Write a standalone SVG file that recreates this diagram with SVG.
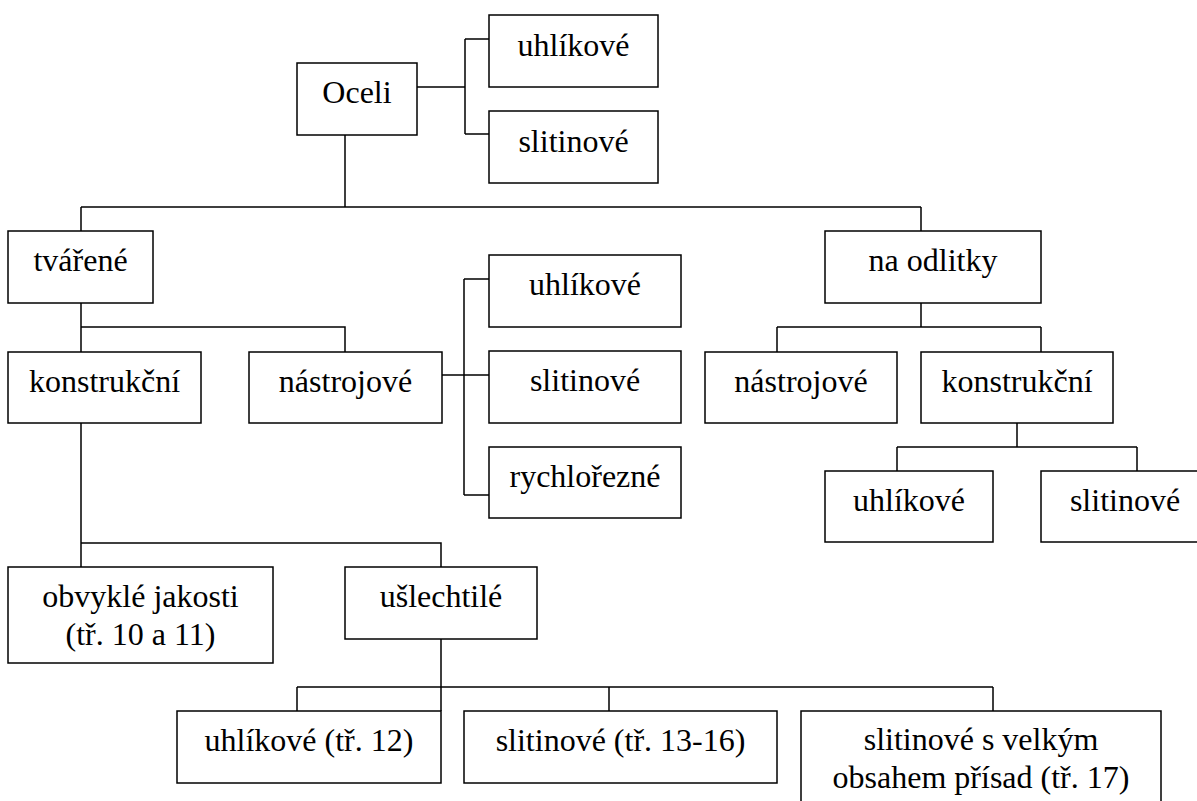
<svg xmlns="http://www.w3.org/2000/svg" width="1197" height="801" viewBox="0 0 1197 801">
<style>
.box{fill:#fff;stroke:#000;stroke-width:1.5}
.ln{fill:none;stroke:#000;stroke-width:1.5}
text{font-family:'Liberation Serif','Times New Roman',serif;font-size:32px;fill:#000;text-anchor:middle}
</style>
<rect width="1197" height="801" fill="#fff"/>
<g id="connectors" class="ln">
<path d="M417,87 H465 M465,39 V134 M465,39 H489 M465,134 H489"/>
<path d="M345,135 V207 M81,207 H921 M81,207 V231 M921,207 V231"/>
<path d="M81,303 V352 M81,327 H345 V352"/>
<path d="M442,375 H489 M464,279 V495 M464,279 H489 M464,495 H489"/>
<path d="M921,303 V327 M777,327 H1041 M777,327 V352 M1041,327 V352"/>
<path d="M1017,423 V447 M897,447 H1137 M897,447 V471 M1137,447 V471"/>
<path d="M81,423 V567 M81,543 H441 V567"/>
<path d="M441,639 V711 M297,687 H993 M297,687 V711 M609,687 V711 M993,687 V711"/>
</g>
<g id="oceli"><rect class="box" x="297" y="63" width="120" height="72"/><text x="357" y="103">Oceli</text></g>
<g id="uhlikove1"><rect class="box" x="489" y="15" width="169" height="72"/><text x="573.5" y="56">uhlíkové</text></g>
<g id="slitinove1"><rect class="box" x="489" y="111" width="169" height="72"/><text x="573.5" y="152">slitinové</text></g>
<g id="tvarene"><rect class="box" x="8" y="231" width="145" height="72"/><text x="80.5" y="271">tvářené</text></g>
<g id="na-odlitky"><rect class="box" x="825" y="231" width="216" height="72"/><text x="933" y="271">na odlitky</text></g>
<g id="konstrukcni1"><rect class="box" x="8" y="352" width="193" height="71"/><text x="104.5" y="392">konstrukční</text></g>
<g id="nastrojove1"><rect class="box" x="249" y="352" width="193" height="71"/><text x="345.5" y="392">nástrojové</text></g>
<g id="uhlikove2"><rect class="box" x="489" y="255" width="192" height="72"/><text x="585" y="295">uhlíkové</text></g>
<g id="slitinove2"><rect class="box" x="489" y="351" width="192" height="72"/><text x="585" y="391">slitinové</text></g>
<g id="rychlorezne"><rect class="box" x="489" y="447" width="192" height="71"/><text x="585" y="487">rychlořezné</text></g>
<g id="nastrojove2"><rect class="box" x="705" y="352" width="192" height="71"/><text x="801" y="392">nástrojové</text></g>
<g id="konstrukcni2"><rect class="box" x="921" y="352" width="192" height="71"/><text x="1017" y="392">konstrukční</text></g>
<g id="uhlikove3"><rect class="box" x="825" y="471" width="168" height="71"/><text x="909" y="511">uhlíkové</text></g>
<g id="slitinove3"><rect class="box" x="1041" y="471" width="168" height="71"/><text x="1125" y="511">slitinové</text></g>
<g id="obvykle"><rect class="box" x="8" y="567" width="265" height="96"/><text x="140.5" y="607">obvyklé jakosti</text><text x="140.5" y="645">(tř. 10 a 11)</text></g>
<g id="uslechtile"><rect class="box" x="345" y="567" width="192" height="72"/><text x="441" y="607">ušlechtilé</text></g>
<g id="uhlikove12"><rect class="box" x="177" y="711" width="264" height="72"/><text x="309" y="751">uhlíkové (tř. 12)</text></g>
<g id="slitinove1316"><rect class="box" x="464" y="711" width="313" height="72"/><text x="620.5" y="751">slitinové (tř. 13-16)</text></g>
<g id="slitinove17"><rect class="box" x="801" y="711" width="360" height="110"/><text x="981" y="750">slitinové s velkým</text><text x="981" y="788">obsahem přísad (tř. 17)</text></g>
</svg>
